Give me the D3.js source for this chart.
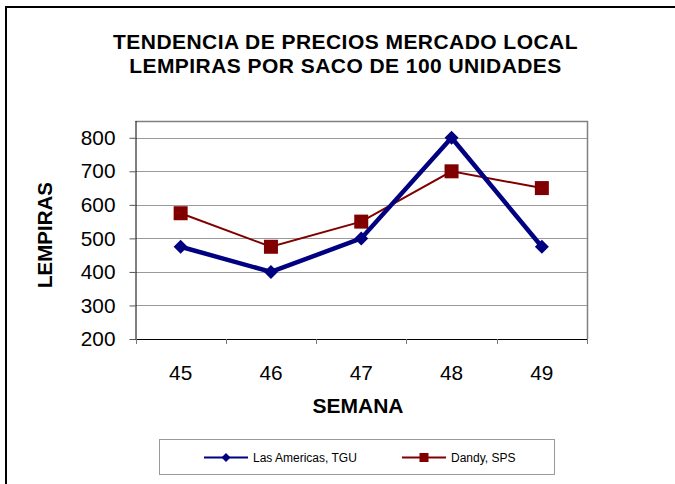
<!DOCTYPE html>
<html>
<head>
<meta charset="utf-8">
<script src="https://cdn.jsdelivr.net/npm/d3@7"></script>
<style>
  html, body { margin: 0; padding: 0; background: #fff; }
  svg { display: block; font-family: "Liberation Sans", Arial, sans-serif; }
</style>
</head>
<body>
<svg id="chart" width="675" height="484"></svg>
<script>
const titleLines = ["TENDENCIA DE PRECIOS MERCADO LOCAL", "LEMPIRAS POR SACO DE 100 UNIDADES"];
const weeks = ["45", "46", "47", "48", "49"];
const lasAmericas = [475, 400, 500, 800, 475];
const dandy = [575, 475, 550, 700, 650];
const yTicks = [200, 300, 400, 500, 600, 700, 800];
const seriesNames = ["Las Americas, TGU", "Dandy, SPS"];
const xTitle = "SEMANA";
const yTitle = "LEMPIRAS";

(function () {
const svg = d3.select("#chart");

// outer chart frame (only left and top edges visible)
svg.append("path").attr("d", "M6,484V7H675")
  .attr("fill", "none").attr("stroke", "#000").attr("stroke-width", 2);

const pL = 135.5, pR = 587, pT = 121, pB = 339;
const x = d3.scaleBand().domain(weeks).range([pL, pR]).paddingInner(0).paddingOuter(0);
const y = d3.scaleLinear().domain([200, 850]).range([pB, pT]);

// title
titleLines.forEach((t, i) => {
  svg.append("text").attr("text-anchor", "middle")
    .attr("font-weight", "bold").attr("font-size", 21).attr("letter-spacing", 0.45).attr("fill", "#000")
    .attr("x", 345.5).attr("y", 49.3 + i * 23.5).text(t);
});

// gridlines
svg.append("g").selectAll("line").data(yTicks).join("line")
  .attr("x1", pL).attr("x2", pR)
  .attr("y1", d => Math.round(y(d)) + 0.5).attr("y2", d => Math.round(y(d)) + 0.5)
  .attr("stroke", "#9a9a9a").attr("stroke-width", 1);

// plot area border (top/right gray)
svg.append("path")
  .attr("d", `M${pL},${pT + 0.5}H${pR + 0.5}V${pB}`)
  .attr("fill", "none").attr("stroke", "#808080").attr("stroke-width", 1.5);

// y axis
const yAxis = svg.append("g").attr("transform", `translate(${pL},0)`)
  .call(d3.axisLeft(y).tickValues(yTicks).tickSize(6).tickPadding(14).tickFormat(d3.format("d")));
yAxis.select(".domain").attr("stroke", "#000").attr("d", `M0.5,${pT}V${pB}`);
yAxis.selectAll(".tick line").attr("stroke", "#555");
yAxis.selectAll(".tick text").attr("font-size", 20.8).attr("fill", "#000")
  .attr("font-family", "'Liberation Sans', Arial, sans-serif");

// x axis: labels at band centers, ticks at band boundaries
const xAxis = svg.append("g").attr("transform", `translate(0,${pB})`)
  .call(d3.axisBottom(x).tickSize(0).tickPadding(26));
xAxis.select(".domain").attr("stroke", "#000").attr("d", `M${pL},0.5H${pR}`);
xAxis.selectAll(".tick text").attr("font-size", 20.8).attr("fill", "#000")
  .attr("font-family", "'Liberation Sans', Arial, sans-serif");
const bounds = weeks.map(w => x(w)).concat([x(weeks[weeks.length - 1]) + x.bandwidth()]);
xAxis.selectAll(".bnd").data(bounds).join("line").attr("class", "bnd")
  .attr("x1", d => Math.round(d) + 0.5).attr("x2", d => Math.round(d) + 0.5)
  .attr("y1", 0).attr("y2", 5).attr("stroke", "#777");

// axis titles
svg.append("text").attr("x", 358).attr("y", 412.5).attr("text-anchor", "middle")
  .attr("font-weight", "bold").attr("font-size", 21).text(xTitle);
svg.append("text").attr("transform", "translate(51.5,235) rotate(-90)").attr("text-anchor", "middle")
  .attr("font-weight", "bold").attr("font-size", 20.5).text(yTitle);

const cx = w => x(w) + x.bandwidth() / 2;
const line = d3.line().x((d, i) => cx(weeks[i])).y(d => y(d));

// Dandy series (red, squares)
svg.append("path").datum(dandy).attr("d", line)
  .attr("fill", "none").attr("stroke", "#800000").attr("stroke-width", 2);
svg.append("g").selectAll("rect").data(dandy).join("rect")
  .attr("x", (d, i) => cx(weeks[i]) - 7).attr("y", d => y(d) - 7)
  .attr("width", 14).attr("height", 14).attr("fill", "#800000");

// Las Americas series (blue, diamonds)
svg.append("path").datum(lasAmericas).attr("d", line)
  .attr("fill", "none").attr("stroke", "#000080").attr("stroke-width", 4.5).attr("stroke-linejoin", "miter");
const diamond = (s) => `M0,${-s}L${s},0L0,${s}L${-s},0Z`;
svg.append("g").selectAll("path").data(lasAmericas).join("path")
  .attr("transform", (d, i) => `translate(${cx(weeks[i])},${y(d)})`)
  .attr("d", diamond(7)).attr("fill", "#000080");

// legend
const lg = svg.append("g");
lg.append("rect").attr("x", 159.5).attr("y", 439.5).attr("width", 395).attr("height", 35)
  .attr("fill", "#fff").attr("stroke", "#999").attr("stroke-width", 1);
const legendItems = [
  { name: seriesNames[0], color: "#000080", x0: 204, marker: "diamond" },
  { name: seriesNames[1], color: "#800000", x0: 402, marker: "square" }
];
legendItems.forEach(it => {
  lg.append("line").attr("x1", it.x0).attr("x2", it.x0 + 44).attr("y1", 457.5).attr("y2", 457.5)
    .attr("stroke", it.color).attr("stroke-width", 2);
  if (it.marker === "diamond") {
    lg.append("path").attr("transform", `translate(${it.x0 + 22},457.5)`).attr("d", diamond(4.5)).attr("fill", it.color);
  } else {
    lg.append("rect").attr("x", it.x0 + 22 - 4.5).attr("y", 453).attr("width", 9).attr("height", 9).attr("fill", it.color);
  }
  lg.append("text").attr("x", it.x0 + 49).attr("y", 462).attr("font-size", 12).attr("fill", "#000").text(it.name);
});
})();
</script>
</body>
</html>
